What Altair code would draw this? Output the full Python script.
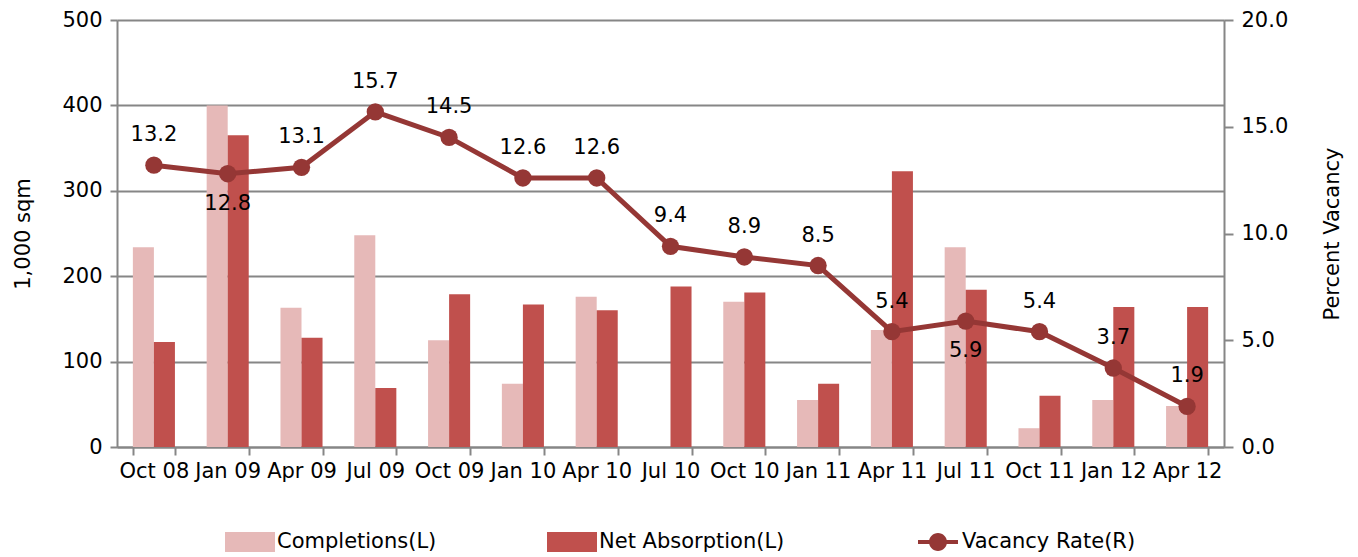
import altair as alt
import pandas as pd

quarters = ["Oct 08", "Jan 09", "Apr 09", "Jul 09", "Oct 09", "Jan 10", "Apr 10", "Jul 10",
            "Oct 10", "Jan 11", "Apr 11", "Jul 11", "Oct 11", "Jan 12", "Apr 12"]
completions = [234, 400, 163, 248, 125, 74, 176, 0, 170, 55, 137, 234, 22, 55, 48]
net_absorption = [123, 365, 128, 69, 179, 167, 160, 188, 181, 74, 323, 184, 60, 164, 164]
vacancy = [13.2, 12.8, 13.1, 15.7, 14.5, 12.6, 12.6, 9.4, 8.9, 8.5, 5.4, 5.9, 5.4, 3.7, 1.9]
label_pos = ["above", "below", "above", "above", "above", "above", "above", "above",
             "above", "above", "above", "below", "above", "above", "above"]

series_names = ["Completions(L)", "Net Absorption(L)"]
line_name = "Vacancy Rate(R)"
bar_colors = ["#E6B9B8", "#C0504D"]
line_color = "#953735"

FONT = "DejaVu Sans"
GRAY = "#868686"
FS = 21

rows = []
for q, c, n in zip(quarters, completions, net_absorption):
    rows.append({"quarter": q, "series": series_names[0], "value": c})
    rows.append({"quarter": q, "series": series_names[1], "value": n})
bar_df = pd.DataFrame(rows)

line_df = pd.DataFrame({"quarter": quarters, "vacancy": vacancy, "pos": label_pos,
                        "name": [line_name] * len(quarters)})

x_enc = alt.X("quarter:N", sort=quarters,
              scale=alt.Scale(paddingInner=0.43, paddingOuter=0.215),
              axis=alt.Axis(title=None, labelAngle=0, labelFontSize=FS, labelFont=FONT,
                            labelColor="#000000", domainColor=GRAY, domainWidth=2,
                            tickColor=GRAY, tickWidth=2, tickSize=8, tickBand="extent",
                            labelPadding=5))

rect_path = "M-1.25,-0.5L1.25,-0.5L1.25,0.5L-1.25,0.5Z"
line_path = ("M-1,-0.1L1,-0.1L1,0.1L-1,0.1Z"
             "M0.45,0A0.45,0.45 0 1,1 -0.45,0A0.45,0.45 0 1,1 0.45,0Z")

bars = alt.Chart(bar_df).mark_bar().encode(
    x=x_enc,
    xOffset=alt.XOffset("series:N", sort=series_names),
    y=alt.Y("value:Q", scale=alt.Scale(domain=[0, 500]),
            axis=alt.Axis(title="1,000 sqm", titleFontSize=21, titleFont=FONT,
                          titleFontWeight="normal", titleColor="#000000",
                          values=[0, 100, 200, 300, 400, 500],
                          labelFontSize=FS, labelFont=FONT, labelColor="#000000",
                          domainColor=GRAY, domainWidth=2, tickColor=GRAY, tickWidth=2,
                          tickSize=7, gridColor=GRAY, gridWidth=2, labelPadding=8,
                          titlePadding=28)),
    color=alt.Color("series:N", sort=series_names,
                    scale=alt.Scale(domain=series_names, range=bar_colors),
                    legend=alt.Legend(title=None, orient="none", legendX=113, legendY=502,
                                      direction="horizontal", symbolType=rect_path,
                                      symbolSize=1600, symbolStrokeWidth=0,
                                      labelFontSize=21, labelFont=FONT, labelColor="#000000",
                                      labelLimit=400, columnPadding=110, labelOffset=7)),
)

y_right = alt.Y("vacancy:Q", scale=alt.Scale(domain=[0, 20]),
                axis=alt.Axis(title="Percent Vacancy", orient="right", titleFontSize=21,
                              titleFont=FONT, titleFontWeight="normal", titleColor="#000000",
                              titleAngle=270, values=[0, 5, 10, 15, 20], format=".1f",
                              grid=False, labelFontSize=FS, labelFont=FONT,
                              labelColor="#000000", domainColor=GRAY, domainWidth=2,
                              tickColor=GRAY, tickWidth=2, tickSize=9, labelPadding=8,
                              titlePadding=55))

base = alt.Chart(line_df).encode(x=x_enc, y=y_right)

line = base.mark_line(color=line_color, strokeWidth=5)
points = base.mark_point(filled=True, size=300, opacity=1).encode(
    color=alt.Color("name:N", scale=alt.Scale(domain=[line_name], range=[line_color]),
                    legend=alt.Legend(title=None, orient="none", legendX=801, legendY=502,
                                      symbolType=line_path, symbolSize=1600,
                                      symbolStrokeWidth=0, labelFontSize=21, labelFont=FONT,
                                      labelColor="#000000", labelLimit=400, labelOffset=4))
)
text_above = base.mark_text(dy=-30, fontSize=FS, font=FONT, color="#000000").encode(
    text=alt.Text("vacancy:Q", format=".1f")
).transform_filter(alt.datum.pos == "above")
text_below = base.mark_text(dy=30, fontSize=FS, font=FONT, color="#000000").encode(
    text=alt.Text("vacancy:Q", format=".1f")
).transform_filter(alt.datum.pos == "below")

right_layer = alt.layer(line, points, text_above, text_below)

chart = alt.layer(bars, right_layer).resolve_scale(
    y="independent", color="independent"
).properties(
    width=1107, height=427,
    autosize=alt.AutoSizeParams(type="none"),
    padding={"left": 109, "top": 12, "right": 126, "bottom": 108},
).configure_view(stroke=None).configure(background="#ffffff")

chart.save("out.html", embed_options={"renderer": "svg", "actions": False})
